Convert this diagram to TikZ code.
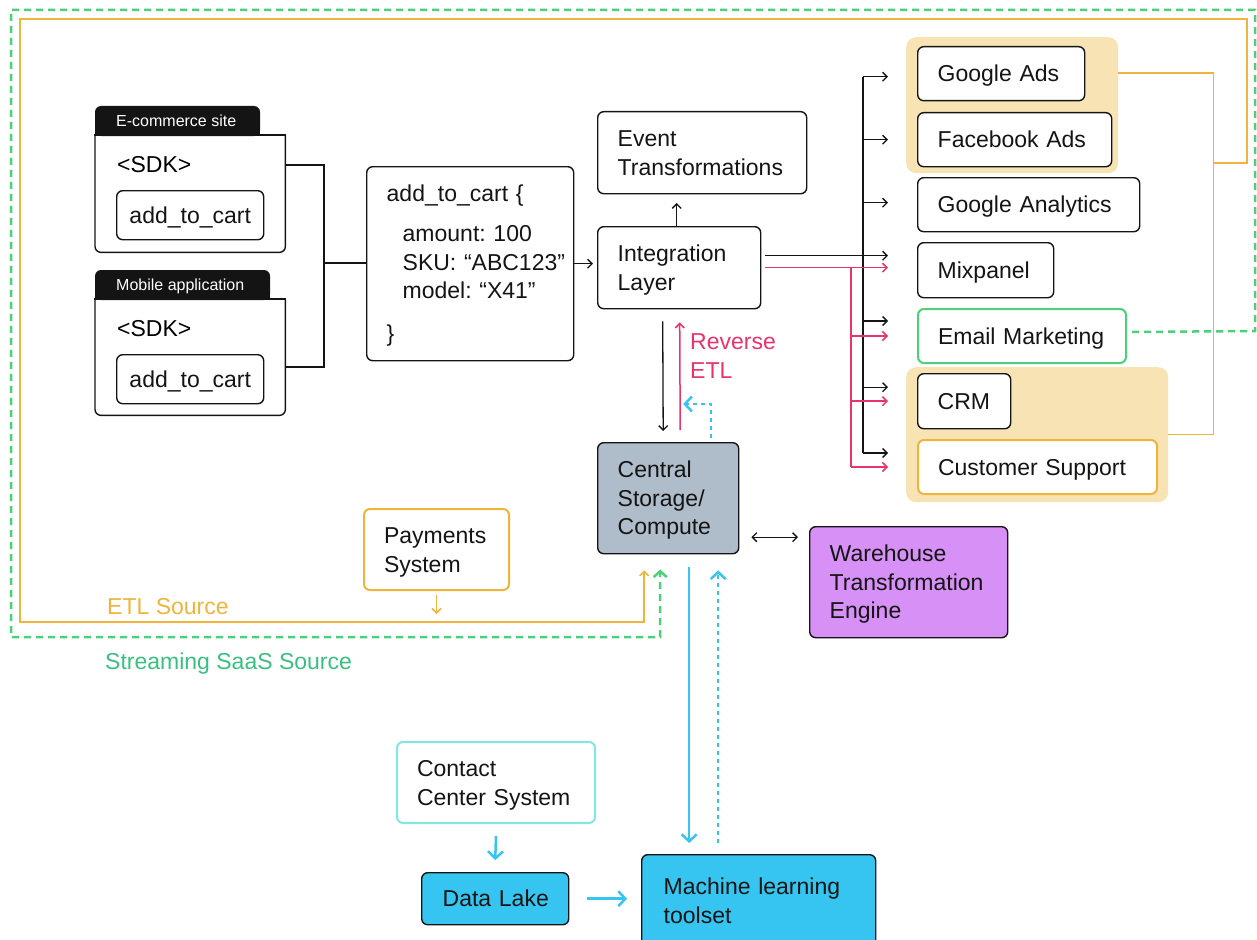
\documentclass[tikz,border=0pt]{standalone}
\usepackage{fontspec}
\setmainfont{Liberation Sans}
\usetikzlibrary{arrows.meta,calc}

\definecolor{ink}{HTML}{141414}
\definecolor{amber}{HTML}{F0B43C}
\definecolor{sand}{HTML}{F8E3B5}
\definecolor{leaf}{HTML}{4DD07A}
\definecolor{leaftext}{HTML}{3BBF80}
\definecolor{rose}{HTML}{E8336B}
\definecolor{sky}{HTML}{36C5F0}
\definecolor{aqua}{HTML}{80E8E0}
\definecolor{slate}{HTML}{AFBDCB}
\definecolor{lilac}{HTML}{D690F6}

\newcommand\bodyfont{\fontsize{23}{28.5}\selectfont\frenchspacing}
\newcommand\tabfont{\fontsize{16}{19}\selectfont\frenchspacing}

\tikzset{
  bx/.style={draw=ink, line width=1.4pt, rounded corners=6pt, anchor=north west,
    inner xsep=20pt, inner ysep=0pt, align=left, font=\bodyfont, text=ink},
  lone/.style={text height=16.5pt, text depth=0pt},
  ltwo/.style={text height=16.5pt, text depth=28.5pt},
  lthree/.style={text height=16.5pt, text depth=57pt},
  grp/.style={fill=sand, rounded corners=10pt, anchor=north west, inner sep=0pt},
  ln/.style={draw=ink, line width=1.3pt},
  pk/.style={draw=rose, line width=1.5pt},
  amb/.style={draw=amber, line width=1.5pt},
  gd/.style={draw=leaf, line width=2.5pt, dash pattern=on 7pt off 5pt},
  bl/.style={draw=sky, line width=2.5pt},
  bld/.style={draw=sky, line width=2.5pt, dash pattern=on 4pt off 4pt},
  ah/.style={-{Straight Barb[length=4.5pt,width=9pt]}},
  bah/.style={-{Straight Barb[length=7pt,width=15pt]}},
  gah/.style={-{Straight Barb[length=6pt,width=13pt]}},
  cardline/.style={draw=ink, line width=1.4pt},
  tabtext/.style={anchor=west, inner sep=0pt, font=\tabfont, text=white,
    text height=11.5pt, text depth=0pt},
  plain/.style={inner sep=0pt, font=\bodyfont},
}

\begin{document}
\begin{tikzpicture}[x=1pt, y=-1pt]
\useasboundingbox (0,0) rectangle (1257,939);

% ---------- sources: cards with tabs ----------
\node[minimum width=190pt, minimum height=117pt, anchor=north west, inner sep=0pt] (ecom) at (95,135) {};
\draw[cardline, rounded corners=6pt] (ecom.north west) -- (ecom.south west) -- (ecom.south east) -- (ecom.north east);
\draw[cardline, line cap=rect] (ecom.north west) -- (ecom.north east);
\fill[ink, rounded corners=6pt] (95,106) rectangle (260,136);
\fill[ink] (95,124) rectangle (260,136);
\node[tabtext] (ecomtab) at (116,121) {E-commerce site};
\node[plain, anchor=base west] (sdk1) at (117,172) {<SDK>};
\node[bx, lone, align=center, inner xsep=5pt, minimum width=147pt, minimum height=49pt, text width=137pt] (ev1) at (116,190) {add\_to\_cart};

\node[minimum width=190pt, minimum height=116pt, anchor=north west, inner sep=0pt] (mob) at (95,299) {};
\draw[cardline, rounded corners=6pt] (mob.north west) -- (mob.south west) -- (mob.south east) -- (mob.north east);
\draw[cardline, line cap=rect] (mob.north west) -- (mob.north east);
\fill[ink, rounded corners=6pt] (95,270) rectangle (270,300);
\fill[ink] (95,288) rectangle (270,300);
\node[tabtext] (mobtab) at (116,285) {Mobile application};
\node[plain, anchor=base west] (sdk2) at (117,336) {<SDK>};
\node[bx, lone, align=center, inner xsep=5pt, minimum width=147pt, minimum height=49pt, text width=137pt] (ev2) at (116,354) {add\_to\_cart};

% ---------- event payload ----------
\node[bx, text height=16.5pt, text depth=140pt, minimum width=207pt, minimum height=194pt, text width=167pt] (cart) at (366,166)
  {\mbox{add\_to\_cart \{}\\[11.5pt]
   \hspace*{16pt}\mbox{amount: 100}\\
   \hspace*{16pt}\mbox{SKU: “ABC123”}\\
   \hspace*{16pt}\mbox{model: “X41”}\\[14.5pt]
   \}};

% ---------- pipeline core ----------
\node[bx, ltwo, minimum width=209pt, minimum height=82pt, text width=169pt] (evt) at (597,111) {Event\\Transformations};
\node[bx, ltwo, minimum width=163pt, minimum height=82pt, text width=123pt] (integ) at (597,226) {Integration\\Layer};
\node[bx, lthree, fill=slate, minimum width=141pt, minimum height=111pt, text width=101pt] (central) at (597,442) {Central\\Storage/\\Compute};
\node[bx, lthree, fill=lilac, minimum width=198pt, minimum height=111pt, text width=158pt] (wte) at (809,526) {Warehouse\\Transformation\\Engine};
\node[bx, ltwo, draw=amber, line width=2pt, minimum width=145pt, minimum height=81pt, text width=105pt] (pay) at (363,508) {Payments\\System};
\node[bx, ltwo, draw=aqua, line width=2pt, minimum width=198pt, minimum height=81pt, text width=158pt] (ccs) at (396,741) {Contact\\\mbox{Center System}};
\node[bx, lone, fill=sky, minimum width=147pt, minimum height=52pt, text width=105pt, inner xsep=21pt] (lake) at (421,872) {\mbox{Data Lake}};
\node[bx, ltwo, fill=sky, minimum width=234pt, minimum height=92pt, text width=190pt, inner xsep=22pt] (ml) at (641,854) {\mbox{Machine learning}\\toolset};

% ---------- destinations ----------
\node[grp, minimum width=212pt, minimum height=136pt] (grp1) at (906,37) {};
\node[grp, minimum width=262pt, minimum height=135pt] (grp2) at (906,367) {};
\node[bx, lone, fill=white, minimum width=167pt, minimum height=54pt, text width=127pt] (gads) at (917,46) {\mbox{Google Ads}};
\node[bx, lone, fill=white, minimum width=194pt, minimum height=54pt, text width=154pt] (fads) at (917,112) {\mbox{Facebook Ads}};
\node[bx, lone, minimum width=222pt, minimum height=54pt, text width=182pt] (ga) at (917,177) {\mbox{Google Analytics}};
\node[bx, lone, minimum width=136pt, minimum height=55pt, text width=96pt] (mix) at (917,242) {Mixpanel};
\node[bx, lone, draw=leaf, line width=2pt, minimum width=208pt, minimum height=54pt, text width=168pt] (email) at (917,308) {\mbox{Email Marketing}};
\node[bx, lone, fill=white, minimum width=93pt, minimum height=55pt, text width=53pt] (crm) at (917,373) {CRM};
\node[bx, lone, fill=white, draw=amber, line width=2pt, minimum width=239pt, minimum height=54pt, text width=199pt] (cs) at (917,439) {\mbox{Customer Support}};

% ---------- labels ----------
\node[plain, anchor=north west, align=left, text=rose] (rev) at (690,333.5) {Reverse\\ETL};
\node[plain, anchor=base west, text=amber] (etl) at (107,614) {ETL Source};
\node[plain, anchor=base west, text=leaftext] (saas) at (105,669) {Streaming SaaS Source};

% ---------- sources to payload ----------
\coordinate (jn) at (324,263);
\draw[ln] ($(ecom.north east)+(0,30)$) -| (jn) |- ($(mob.north east)+(0,68)$);
\draw[ln] (jn) -- (cart.west |- jn);
\draw[ln, ah, shorten >=4pt] (cart.east) -- (cart.east -| integ.west);
\draw[ln, ah] ($(integ.north)+(-2.5,0)$) -- ($(integ.north)+(-2.5,-23)$);

% ---------- integration layer to destinations ----------
\coordinate (bt) at (863,0);
\coordinate (pt) at (851,0);
\coordinate (tipx) at (888,0);
\coordinate (ib) at ($(integ.east)+(4,-12)$);
\coordinate (ip) at ($(integ.east)+(4,0)$);
\draw[ln, ah] (ib) -- (ib -| tipx);
\draw[ln] ($(gads.west -| bt)+(0,3)$) -- ($(cs.west -| bt)+(0,-14)$);
\foreach \b/\o in {gads/3, fads/0, ga/-2, email/-15, crm/-14, cs/-14}
  \draw[ln, ah] ($(\b.west -| bt)+(0,\o)$) -- ($(\b.west -| tipx)+(0,\o)$);
\draw[pk, ah] (ip) -- (ip -| tipx);
\draw[pk] (ip -| pt) -- (cs.west -| pt);
\foreach \b in {email, crm, cs}
  \draw[pk, ah] (\b.west -| pt) -- (\b.west -| tipx);

% ---------- integration layer and storage ----------
\draw[ln, ah] ($(integ.south)+(-16.5,12)$) -- ($(central.north)+(-5,-11)$);
\draw[pk, ah] ($(central.north)+(12,-12)$) -- ($(integ.south)+(0.5,13)$);
\draw[bld, bah] ($(central.north)+(43,-4)$) |- ($(central.north)+(15,-38)$);

\coordinate (cw) at ($(central.east)+(12,39)$);
\draw[ln, {Straight Barb[length=4.5pt,width=9pt]}-{Straight Barb[length=4.5pt,width=9pt]}, shorten >=11pt] (cw) -- (cw -| wte.west);

% ---------- ETL source loop ----------
\draw[amb] ($(grp1.north east)+(0,36)$) -- ++(95,0) coordinate (ob) |- (grp2.east);
\coordinate (oj) at (1213,163);
\draw[amb, ah] (oj) -- (1247,163) -- (1247,19) -- (20,19) -- (20,622) -| ($(central.south)+(-24,16)$);
\draw[amb, ah] ($(pay.south)+(0,4)$) -- ($(pay.south)+(0,23)$);

% ---------- streaming SaaS source loop ----------
\draw[gd, gah] ($(email.east)+(5,-4)$) -- (1255,331) -- (1255,10) -- (11,10) -- (11,637) -| ($(central.south)+(-8,15)$);

% ---------- machine learning ----------
\coordinate (b1) at ($(central.south)+(21,13)$);
\coordinate (b2) at ($(central.south)+(50,16)$);
\draw[bl, bah, shorten >=11pt] (b1) -- (b1 |- ml.north);
\draw[bld, bah] ($(b2 |- ml.north)+(0,-11)$) -- (b2);
\draw[bl, bah] ($(ccs.south)+(0,12)$) -- ($(lake.north)+(0,-12)$);
\draw[bl, bah] ($(lake.east)+(18,0)$) -- ($(lake.east -| ml.west)+(-14,0)$);

\end{tikzpicture}
\end{document}
